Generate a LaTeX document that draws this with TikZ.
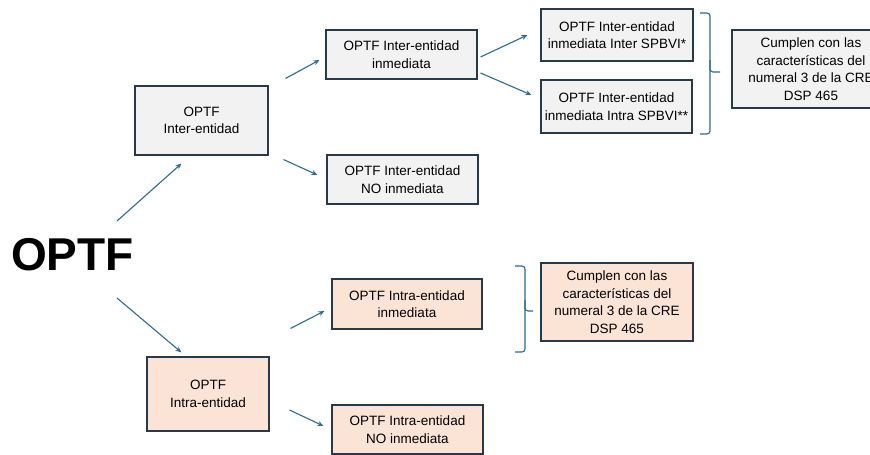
\documentclass[tikz,border=0pt]{standalone}
\usepackage{fontspec}
\setmainfont{Liberation Sans}
\usepackage{tikz}
\usetikzlibrary{positioning, arrows.meta, calc}
\definecolor{bordo}{HTML}{263A4A}
\definecolor{grigio}{HTML}{F2F2F2}
\definecolor{pesca}{HTML}{FBE3D6}
\definecolor{freccia}{HTML}{2B6C94}

\begin{document}
\begin{tikzpicture}[x=1pt, y=-1pt, >={Stealth[length=6pt, width=5pt]}]
    % Stili
    \tikzstyle{block} = [draw=bordo, line width=1.1pt, rectangle, align=center, inner sep=2pt, font=\fontsize{13.5}{17.5}\selectfont]
    \tikzstyle{inter} = [block, fill=grigio]
    \tikzstyle{intra} = [block, fill=pesca]
    \tikzstyle{link} = [->, draw=freccia, line width=1.1pt]

    \useasboundingbox (0,0) rectangle (870,455);
    \clip (0,0) rectangle (870,455);

    % Nodi
    \node [font=\fontsize{46}{50}\selectfont\bfseries, inner sep=0pt] (optf) at (72.5,255) {OPTF};

    \node [inter, minimum width=133pt, minimum height=69pt] (inter) at (201.5,120.5) {OPTF\\Inter-entidad};
    \node [inter, minimum width=151pt, minimum height=49pt] (interinm) at (401.5,54.5) {OPTF Inter-entidad\\inmediata};
    \node [inter, minimum width=151pt, minimum height=49pt] (internoinm) at (402.5,179.5) {OPTF Inter-entidad\\NO inmediata};
    \node [inter, minimum width=152pt, minimum height=52pt] (spbvia) at (617,35) {OPTF Inter-entidad\\inmediata Inter SPBVI*};
    \node [inter, minimum width=151pt, minimum height=53pt] (spbvib) at (616.5,106.5) {OPTF Inter-entidad\\inmediata Intra SPBVI**};
    \node [inter, minimum width=158pt, minimum height=78pt] (cumpleinter) at (811,69) {Cumplen con las\\caracter\'isticas del\\numeral 3 de la CRE\\DSP 465};

    \node [intra, minimum width=122pt, minimum height=74pt] (intra) at (208,394) {OPTF\\Intra-entidad};
    \node [intra, minimum width=150pt, minimum height=50pt] (intrainm) at (407,304) {OPTF Intra-entidad\\inmediata};
    \node [intra, minimum width=151pt, minimum height=49pt] (intranoinm) at (407.5,429.5) {OPTF Intra-entidad\\NO inmediata};
    \node [intra, minimum width=152pt, minimum height=78pt] (cumpleintra) at (617,302) {Cumplen con las\\caracter\'isticas del\\numeral 3 de la CRE\\DSP 465};

    % Collegamenti
    \draw [link] ($(optf)+(44.5,-34)$) -- ($(inter.south west)+(47,8)$);
    \draw [link] ($(optf)+(44.5,43)$) -- ($(intra.north west)+(35,-4)$);
    \draw [link] ($(inter.north east)+(17,-7)$) -- ($(interinm.west)+(-6,5.5)$);
    \draw [link] ($(inter.south east)+(15,4)$) -- ($(internoinm.west)+(-9,-4.5)$);
    \draw [link] ($(interinm.east)+(3,2.5)$) -- ($(spbvia.west)+(-13,0)$);
    \draw [link] ($(interinm.east)+(3,18.5)$) -- ($(spbvib.west)+(-9,-11.5)$);
    \draw [link] ($(intra.north east)+(21,-28)$) -- ($(intrainm.west)+(-7,7)$);
    \draw [link] ($(intra.east)+(20,16)$) -- ($(intranoinm.west)+(-8,-3.5)$);

    % Parentesi
    \draw [freccia, line width=1.1pt, rounded corners=3pt] (700,13) -- (710,13) -- (710,72) -- (720,72);
    \draw [freccia, line width=1.1pt, rounded corners=3pt] (710,60) -- (710,134) -- (700,134);
    \draw [freccia, line width=1.1pt, rounded corners=3pt] (515,266) -- (525,266) -- (525,311) -- (533,311);
    \draw [freccia, line width=1.1pt, rounded corners=3pt] (525,300) -- (525,352) -- (515,352);
\end{tikzpicture}
\end{document}
